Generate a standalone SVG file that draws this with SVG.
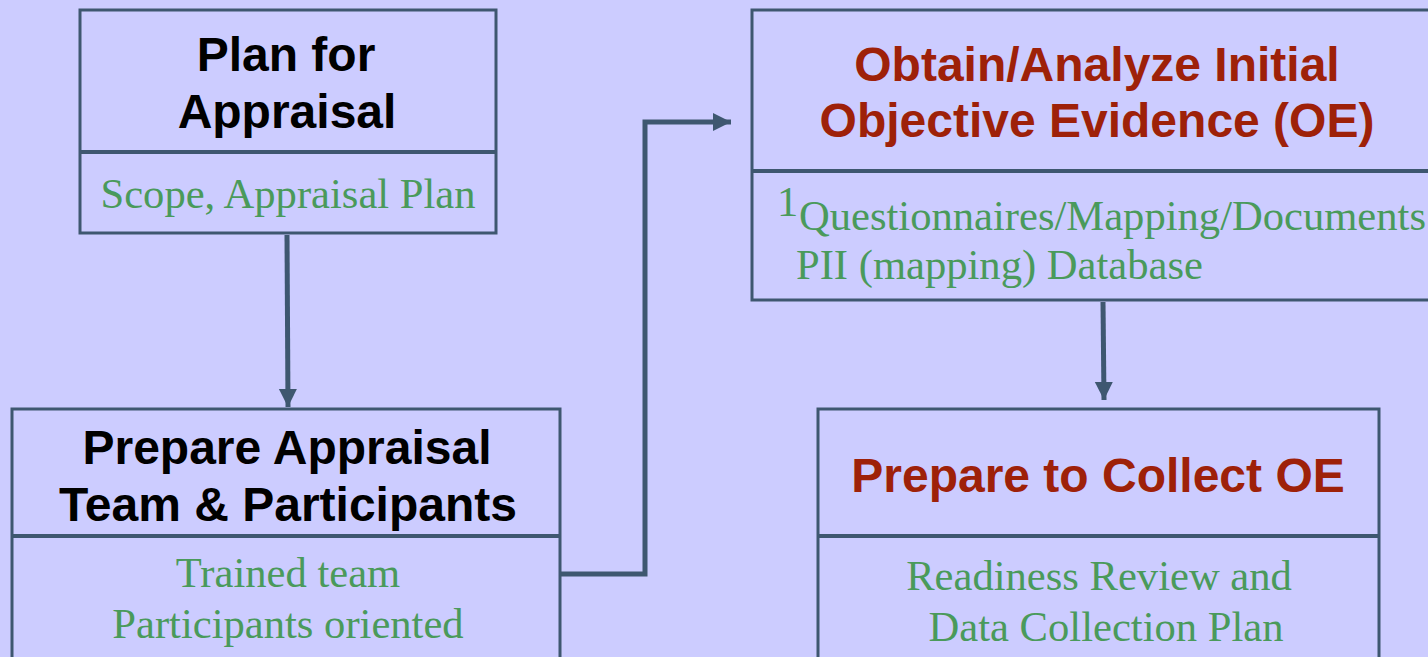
<svg xmlns="http://www.w3.org/2000/svg" width="1428" height="657" viewBox="0 0 1428 657">
<style>
.box{fill:#CCCCFF;stroke:#3E5770;stroke-width:3}
.div{stroke:#3E5770;stroke-width:4}
.t{font-family:"Liberation Sans",Arial,sans-serif;font-weight:bold;font-size:48px;text-anchor:middle}
.blk{fill:#000}
.red{fill:#9E2109}
.g{font-family:"Liberation Serif","Times New Roman",serif;font-size:42.6px;fill:#4A9A5B}
.c{text-anchor:middle}
.conn{fill:none;stroke:#3E5770;stroke-width:5}
</style>
<defs>
<marker id="ah" markerUnits="userSpaceOnUse" markerWidth="20" markerHeight="20" viewBox="0 0 20 20" refX="18" refY="10" orient="auto">
<path d="M0,1 L18,10 L0,19 Z" fill="#3E5770"/>
</marker>
</defs>
<rect width="1428" height="657" fill="#CCCCFF"/>
<g id="connectors">
<path class="conn" d="M287,235 L288,407" marker-end="url(#ah)"/>
<path class="conn" d="M561,574 L645,574 L645,122 L731,122" marker-end="url(#ah)"/>
<path class="conn" d="M1103,302 L1104,400" marker-end="url(#ah)"/>
</g>
<g id="plan">
<rect class="box" x="80" y="10" width="416" height="223"/>
<line class="div" x1="80" y1="152" x2="496" y2="152"/>
<text class="t blk" x="286" y="71">Plan for</text>
<text class="t blk" x="287" y="128">Appraisal</text>
<text class="g c" x="288" y="208">Scope, Appraisal Plan</text>
</g>
<g id="prepare-team">
<rect class="box" x="12" y="409" width="548" height="270"/>
<line class="div" x1="12" y1="536" x2="560" y2="536"/>
<text class="t blk" x="287" y="464">Prepare Appraisal</text>
<text class="t blk" x="288" y="521">Team &amp; Participants</text>
<text class="g c" x="288" y="587">Trained team</text>
<text class="g c" x="288" y="638">Participants oriented</text>
</g>
<g id="obtain-oe">
<rect class="box" x="752" y="10" width="690" height="290"/>
<line class="div" x1="752" y1="171" x2="1442" y2="171"/>
<text class="t red" x="1097" y="81">Obtain/Analyze Initial</text>
<text class="t red" x="1097" y="137">Objective Evidence (OE)</text>
<text class="g" x="777" y="216" font-size="19">1</text>
<text class="g" x="799" y="230" font-size="42">Questionnaires/Mapping/Documents</text>
<text class="g" x="796" y="279">PII (mapping) Database</text>
</g>
<g id="prepare-collect">
<rect class="box" x="818" y="409" width="561" height="270"/>
<line class="div" x1="818" y1="536" x2="1379" y2="536"/>
<text class="t red" x="1098" y="492">Prepare to Collect OE</text>
<text class="g c" x="1099" y="590">Readiness Review and</text>
<text class="g c" x="1106" y="641">Data Collection Plan</text>
</g>
</svg>
